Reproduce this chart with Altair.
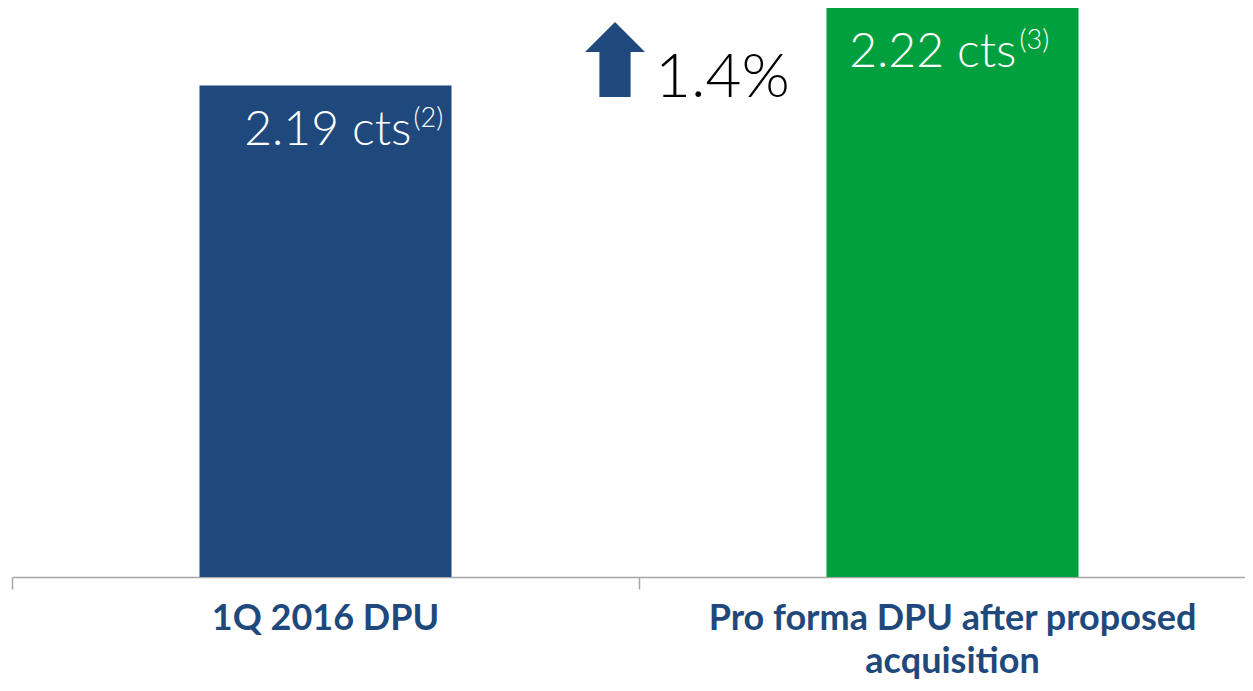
import altair as alt
import pandas as pd

# ---- data ----
categories = ["1Q 2016 DPU", "Pro forma DPU after proposed acquisition"]
axis_labels = ["1Q 2016 DPU", "Pro forma DPU after proposed\nacquisition"]
dpu_values = [2.19, 2.22]
footnotes = ["(2)", "(3)"]
bar_colors = ["#1F497D", "#00A03E"]
change_pct = [1.4]

df = pd.DataFrame({"cat": categories, "label": axis_labels, "dpu": dpu_values, "note": footnotes})
df_pct = pd.DataFrame({"pct": change_pct})

FONT = "Lato"
BLUE = bar_colors[0]
GREY = "#A6A6A6"

x = alt.X(
    "cat:N", sort=categories,
    scale=alt.Scale(paddingInner=0, paddingOuter=0, range=[0, 1254]),
    axis=alt.Axis(title=None, labels=False, grid=False, domainColor=GREY, domainWidth=1.5,
                  tickColor=GREY, tickWidth=1.5, tickSize=12, bandPosition=0),
)
y = alt.Y("dpu:Q", scale=alt.Scale(domain=[2.0, 2.22], nice=False, zero=False), axis=None)

base = alt.Chart(df)

bars = base.mark_bar(width=252).encode(
    x=x, y=y, y2=alt.datum(2.0),
    color=alt.Color("cat:N", scale=alt.Scale(domain=categories, range=bar_colors), legend=None),
)


def value_label(i, dx_main, dx_note):
    sub = base.transform_filter(alt.datum.cat == categories[i])
    main = sub.transform_calculate(txt="format(datum.dpu, '.2f') + ' cts'").mark_text(
        align="right", baseline="alphabetic", dx=dx_main, dy=59, fontSize=48,
        font=FONT, fontWeight=300, color="white",
    ).encode(x=x, y=y, text="txt:N")
    note = sub.mark_text(
        align="left", baseline="alphabetic", dx=dx_note, dy=41, fontSize=27,
        font=FONT, fontWeight=300, color="white",
    ).encode(x=x, y=y, text="note:N")
    return main + note


lab0 = value_label(0, 86, 88)
lab1 = value_label(1, 64, 67)

xlabels = base.mark_text(
    lineBreak="\n", lineHeight=43, fontSize=36, fontWeight="bold", font=FONT,
    color=BLUE, baseline="alphabetic", align="center",
).encode(x=x, y=alt.value(622), text="label:N")

arrow_path = "M0,-1.25 L1,-0.25 L0.52,-0.25 L0.52,1.25 L-0.52,1.25 L-0.52,-0.25 L-1,-0.25 Z"
arrow = alt.Chart(df_pct).mark_point(
    shape=arrow_path, filled=True, color=BLUE, opacity=1, size=3600, strokeWidth=0,
).encode(x=alt.value(603), y=alt.value(51.5))

pct_text = alt.Chart(df_pct).transform_calculate(
    t="format(datum.pct, '.1f') + '%'"
).mark_text(
    align="left", baseline="alphabetic", fontSize=62, font=FONT, fontWeight=300, color="black",
).encode(x=alt.value(643), y=alt.value(89), text="t:N")

chart = alt.layer(bars, lab0, lab1, xlabels, arrow, pct_text).properties(
    width=1233, height=569,
    padding={"left": 4, "top": 0, "right": 0, "bottom": 106},
    autosize="none",
).configure_view(stroke=None)

chart.save("out.html", embed_options={"renderer": "svg", "actions": False})
